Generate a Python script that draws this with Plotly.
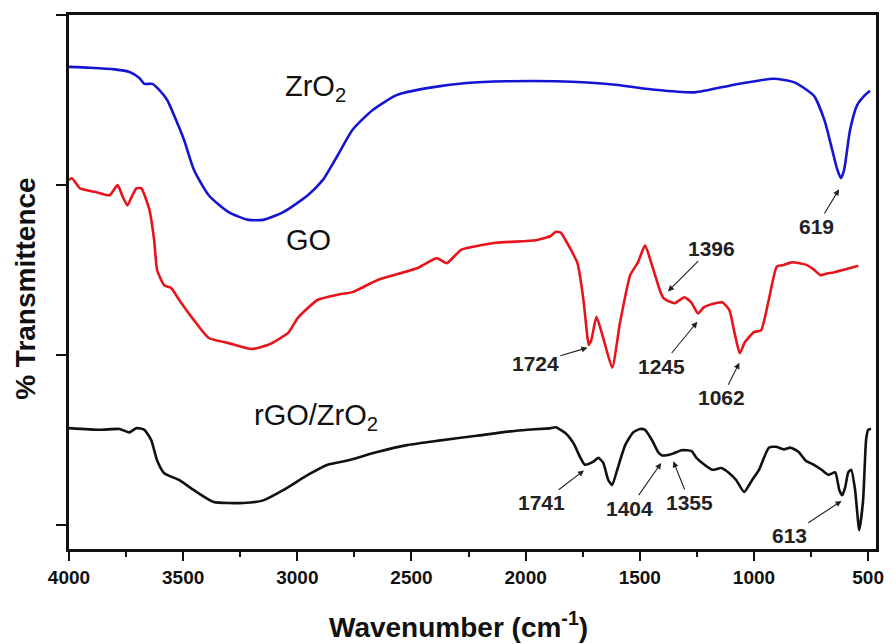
import plotly.graph_objects as go

# ---- FTIR spectra (wavenumber in cm^-1, transmittance in arbitrary offset units) ----
zro2_wn = [4000, 3909, 3800, 3735, 3692, 3670, 3635, 3605, 3570, 3540, 3496, 3453,
           3388, 3301, 3214, 3149, 3062, 2954, 2888, 2823, 2758, 2671, 2563, 2432,
           2259, 2085, 1868, 1607, 1434, 1260, 1086, 913, 826, 770, 735, 691, 657,
           636, 619, 605, 579, 548, 513, 492]
zro2_t = [53.9, 53.8, 53.6, 53.3, 52.6, 51.9, 51.9, 51.2, 50.0, 48.2, 45.3, 41.8,
          38.8, 36.8, 35.9, 35.9, 36.8, 38.8, 40.6, 43.5, 46.5, 48.8, 50.6, 51.4,
          52.0, 52.2, 52.2, 51.8, 51.2, 50.9, 51.8, 52.5, 52.1, 51.2, 50.4, 47.6, 44.1,
          41.9, 40.8, 41.8, 46.5, 49.4, 50.6, 51.1]

go_wn = [4000, 3987, 3952, 3887, 3822, 3787, 3766, 3744, 3722, 3705, 3683, 3648,
         3627, 3614, 3583, 3553, 3518, 3453, 3388, 3301, 3201, 3127, 3040, 2997,
         2910, 2823, 2758, 2650, 2476, 2389, 2346, 2281, 2129, 1955, 1890, 1868,
         1846, 1825, 1790, 1773, 1747, 1735, 1724, 1712, 1690, 1660, 1621, 1586,
         1542, 1508, 1477, 1447, 1412, 1396, 1370, 1347, 1304, 1275, 1245, 1220,
         1195, 1139, 1108, 1085, 1062, 1040, 1000, 969, 935, 900, 869, 835, 800,
         770, 740, 709, 680, 652, 610, 570, 543]
go_t = [40.6, 40.8, 39.6, 39.2, 38.8, 40.0, 38.7, 37.6, 38.8, 39.6, 39.6, 37.1,
        33.5, 30.0, 28.2, 27.9, 26.5, 24.1, 22.0, 21.4, 20.7, 21.2, 22.6, 24.4,
        26.5, 27.1, 27.4, 28.8, 30.2, 31.4, 30.8, 32.4, 33.2, 33.5, 34.0, 34.5,
        34.4, 33.5, 31.8, 30.8, 26.5, 23.5, 21.2, 21.8, 24.5, 22.0, 18.5, 23.9,
        29.4, 30.9, 32.9, 30.6, 27.6, 26.7, 26.3, 26.1, 26.8, 26.2, 24.9, 25.6,
        25.9, 26.2, 25.3, 22.6, 20.2, 21.5, 22.7, 22.9, 26.5, 30.4, 30.6, 30.9, 30.8,
        30.6, 30.1, 29.4, 29.6, 29.7, 30.0, 30.3, 30.5]

rgo_wn = [4000, 3865, 3779, 3735, 3705, 3670, 3640, 3614, 3583, 3518, 3453, 3366,
          3236, 3149, 3062, 2954, 2867, 2780, 2650, 2519, 2389, 2215, 2042, 1890,
          1868, 1825, 1790, 1760, 1741, 1707, 1681, 1660, 1638, 1621, 1599, 1564,
          1529, 1499, 1477, 1447, 1420, 1404, 1382, 1355, 1317, 1273, 1252, 1217,
          1182, 1143, 1108, 1078, 1043, 1008, 978, 935, 904, 869, 839, 804, 774,
          739, 704, 674, 644, 626, 613, 600, 587, 574, 557, 539, 522, 509, 500, 487]
rgo_t = [11.4, 11.2, 11.3, 10.9, 11.4, 11.2, 10.0, 7.6, 6.1, 5.3, 4.1, 2.7,
         2.6, 2.9, 4.1, 5.9, 7.1, 7.6, 8.6, 9.4, 9.9, 10.5, 11.1, 11.4,
         11.5, 10.8, 9.6, 7.9, 7.1, 7.4, 7.9, 7.3, 5.3, 4.7, 6.5, 9.4,
         10.9, 11.3, 11.2, 10.0, 8.6, 8.2, 8.2, 8.4, 8.8, 8.7, 7.9, 7.1,
         6.5, 6.7, 6.1, 5.3, 3.9, 5.3, 6.5, 9.1, 9.2, 8.9, 9.1, 8.6, 7.6,
         7.1, 6.5, 5.9, 6.2, 4.1, 3.5, 4.5, 6.2, 6.5, 4.1, -0.6, 2.9, 10.0, 11.2, 11.3]

# peak labels: (text, arrow tip wavenumber, arrow tip transmittance, text dx px, text dy px)
peak_labels = [
    ("619", 625, 39.6, -23, 38),
    ("1396", 1380, 27.4, 44, -44),
    ("1724", 1725, 20.9, -53, 16),
    ("1245", 1245, 24.0, -37, 45),
    ("1062", 1062, 19.2, -18, 36),
    ("1741", 1741, 6.5, -43, 33),
    ("1404", 1404, 7.4, -32, 46),
    ("1355", 1355, 7.6, 17, 42),
    ("613", 613, 2.9, -53, 35),
]

# sample names: (text, wavenumber, transmittance)
sample_names = [
    ("ZrO<sub>2</sub>", 2919, 51.4),
    ("GO", 2953, 33.5),
    ("rGO/ZrO<sub>2</sub>", 2919, 12.7),
]

x_ticks = [4000, 3500, 3000, 2500, 2000, 1500, 1000, 500]
y_ticks = [0, 20, 40, 60]

FONT = "Arial, Liberation Sans, sans-serif"

fig = go.Figure()
fig.add_trace(go.Scatter(x=zro2_wn, y=zro2_t, mode="lines",
                         line=dict(color="#1414d2", width=2.6, shape="spline", smoothing=0.6)))
fig.add_trace(go.Scatter(x=go_wn, y=go_t, mode="lines",
                         line=dict(color="#e8141c", width=2.6, shape="spline", smoothing=0.5)))
fig.add_trace(go.Scatter(x=rgo_wn, y=rgo_t, mode="lines",
                         line=dict(color="#111111", width=2.6, shape="spline", smoothing=0.5)))

annotations = []
for text, wn, t, dx, dy in peak_labels:
    annotations.append(dict(
        x=wn, y=t, xref="x", yref="y", text=text, showarrow=True,
        ax=dx, ay=dy, arrowhead=2, arrowsize=1.1, arrowwidth=1.1,
        arrowcolor="#222222", standoff=1,
        font=dict(family=FONT, size=21, color="#222222", weight="bold"),
    ))
for text, wn, t in sample_names:
    annotations.append(dict(
        x=wn, y=t, xref="x", yref="y", text=text, showarrow=False,
        font=dict(family=FONT, size=29, color="#111111"),
    ))

# axis titles, positioned in paper fractions of the plot area
annotations.append(dict(
    x=0.483, y=-0.18, xref="paper", yref="paper", text="Wavenumber (cm<sup>-1</sup>)",
    showarrow=False, font=dict(family=FONT, size=28, color="#111111", weight="bold"),
))
annotations.append(dict(
    x=-0.075, y=0.489, xref="paper", yref="paper", text="% Transmittence", textangle=-90,
    showarrow=False, font=dict(family=FONT, size=28, color="#111111", weight="bold"),
))

fig.update_layout(
    width=896, height=644,
    margin=dict(l=69, r=13, t=15, b=95),
    paper_bgcolor="white", plot_bgcolor="white",
    showlegend=False,
    xaxis=dict(
        range=[4000, 465.5], tickvals=x_ticks, ticks="outside", ticklen=9, tickwidth=2.2,
        tickcolor="#111111", showline=True, linewidth=2.6, linecolor="#111111", mirror=True,
        showgrid=False, zeroline=False,
        tickfont=dict(family=FONT, size=19, color="#111111", weight="bold"),
        minor=dict(dtick=250, tick0=0, ticks="outside", ticklen=5, tickwidth=2.2,
                   tickcolor="#111111", showgrid=False),
    ),
    yaxis=dict(
        range=[-2.82, 60], tickvals=y_ticks, ticks="outside", ticklen=10, tickwidth=2.4,
        tickcolor="#111111", showline=True, linewidth=2.6, linecolor="#111111", mirror=True,
        showgrid=False, zeroline=False, showticklabels=False,
    ),
    annotations=annotations,
)

fig.write_html("out.html")
